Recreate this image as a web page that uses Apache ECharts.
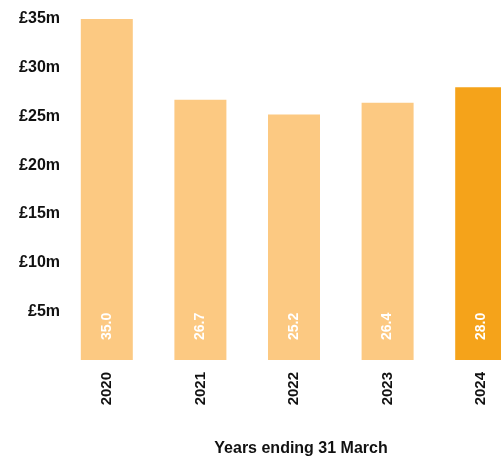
<!DOCTYPE html>
<html>
<head>
<meta charset="utf-8">
<script src="https://cdn.jsdelivr.net/npm/echarts@6/dist/echarts.min.js"></script>
<style>
  html, body { margin: 0; padding: 0; background: #fff; }
  #chart { width: 501px; height: 460px; }
</style>
</head>
<body>
<div id="chart"></div>
<script>
var years = ['2020', '2021', '2022', '2023', '2024'];
var income = [35.0, 26.7, 25.2, 26.4, 28.0];

var chart = echarts.init(document.getElementById('chart'));

chart.setOption({
  animation: false,
  grid: { left: 60, right: -27, top: 19, bottom: 100, outerBoundsMode: 'none', containLabel: false },
  xAxis: {
    type: 'category',
    data: years,
    name: 'Years ending 31 March',
    nameLocation: 'middle',
    nameGap: 81,
    nameTextStyle: {
      fontFamily: 'Liberation Sans', fontWeight: 'bold', fontSize: 16, color: '#111',
      padding: [0, 0, 0, 14]
    },
    axisLine: { show: false },
    axisTick: { show: false },
    axisLabel: {
      rotate: 90, margin: 12,
      fontFamily: 'Liberation Sans', fontWeight: 'bold', fontSize: 15, color: '#111'
    }
  },
  yAxis: {
    type: 'value',
    min: 0, max: 35, interval: 5,
    splitLine: { show: false },
    axisLine: { show: false },
    axisTick: { show: false },
    axisLabel: {
      margin: 0,
      fontFamily: 'Liberation Sans', fontWeight: 'bold', fontSize: 16, color: '#111',
      formatter: function (v) { return v === 0 ? '' : '£' + v + 'm'; }
    }
  },
  series: [{
    type: 'bar',
    barWidth: 52,
    data: income.map(function (v, i) {
      return {
        value: v,
        itemStyle: { color: i === income.length - 1 ? '#F5A31A' : '#FCC982' }
      };
    }),
    label: {
      show: true,
      position: 'insideBottom',
      rotate: 90,
      align: 'left',
      verticalAlign: 'middle',
      distance: 20,
      color: '#fff',
      fontFamily: 'Liberation Sans',
      fontWeight: 'bold',
      fontSize: 14,
      formatter: function (p) { return p.value.toFixed(1); }
    }
  }]
});
</script>
</body>
</html>
